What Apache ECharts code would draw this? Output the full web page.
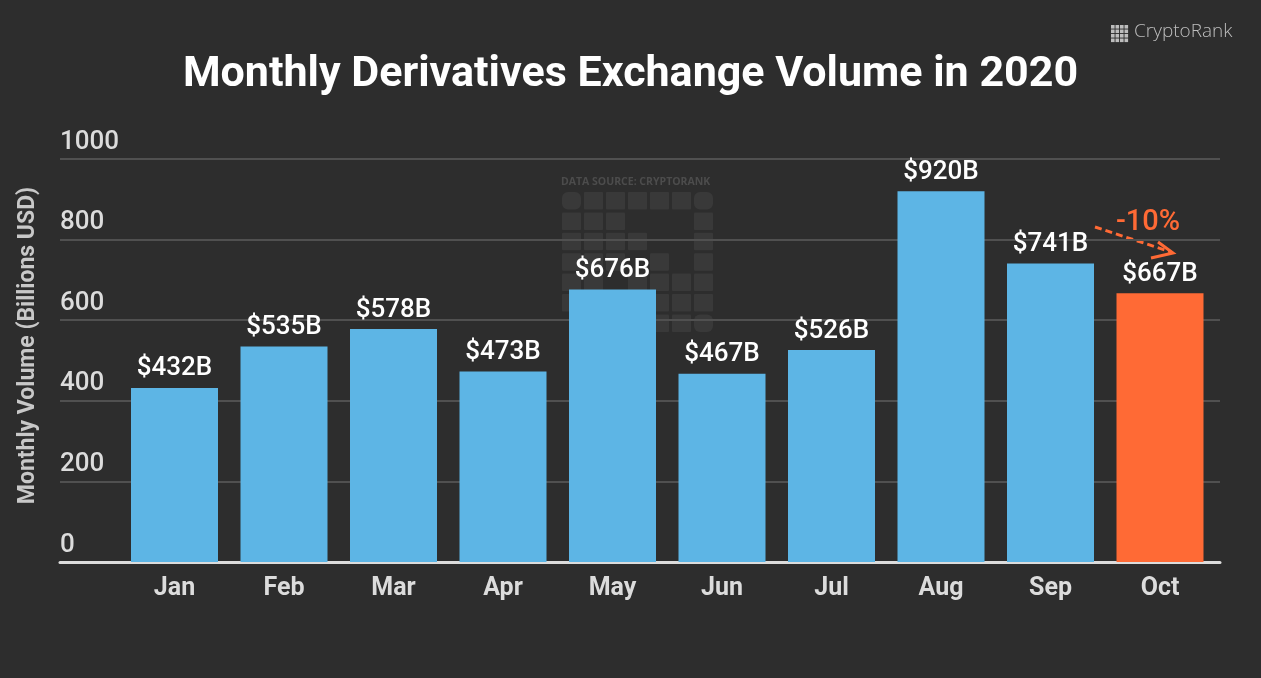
<!doctype html>
<html>
    <head>
        <meta charset="utf-8">
        <title>Monthly Derivatives Exchange Volume in 2020</title>
        <style>
            html, body { margin: 0; padding: 0; background: #2d2d2d; }
            #main { width: 1261px; height: 678px; }
        </style>
    </head>
    <body>
        <div id="main"></div>
        <script src="https://cdn.jsdelivr.net/npm/echarts@6/dist/echarts.min.js"></script>
        <script>
            var months = ['Jan', 'Feb', 'Mar', 'Apr', 'May', 'Jun', 'Jul', 'Aug', 'Sep', 'Oct'];
            var volumes = [432, 535, 578, 473, 676, 467, 526, 920, 741, 667];
            var highlightMonth = 'Oct';
            var changeText = '-10%';
            var yMin = 0, yMax = 1000, yStep = 200;

            var BLUE = '#5db5e5';
            var ORANGE = '#ff6a35';

            var chart = echarts.init(document.getElementById('main'));

            // faint logo watermark: 7x7 grid with the arrow cut out
            var mask = [
                '1111111',
                '1110001',
                '1111001',
                '1110101',
                '1101111',
                '1011111',
                '0111111'
            ];
            var cells = [];
            mask.forEach(function (row, r) {
                row.split('').forEach(function (c, k) {
                    if (c === '1') {
                        cells.push({
                            type: 'rect',
                            shape: { x: 562 + k * 22, y: 192 + r * 20.4, width: 19, height: 17.5, r: k === 0 && r === 0 || k === 6 && r === 0 || k === 6 && r === 6 ? 6 : 1 },
                            style: { fill: 'rgba(255,255,255,0.06)' },
                            silent: true
                        });
                    }
                });
            });

            // small brand icon
            var icon = [];
            for (var i = 0; i < 4; i++) {
                for (var j = 0; j < 4; j++) {
                    icon.push({
                        type: 'rect',
                        shape: { x: 1111 + j * 4.5, y: 25 + i * 4.5, width: 3.6, height: 3.6 },
                        style: { fill: '#bdbdbd' },
                        silent: true
                    });
                }
            }

            chart.setOption({
                backgroundColor: '#2d2d2d',
                textStyle: { fontFamily: 'Roboto' },
                title: {
                    text: 'Monthly Derivatives Exchange Volume in 2020',
                    left: 'center',
                    top: 49,
                    textStyle: { color: '#ffffff', fontSize: 43, fontWeight: 'bold', fontFamily: 'Roboto' }
                },
                grid: [
                    { left: 60, right: 41, top: 159, bottom: 116 },
                    { left: 119.75, right: 46.25, top: 159, bottom: 116 }
                ],
                xAxis: [
                    {
                        gridIndex: 0,
                        type: 'value',
                        min: 0,
                        max: 1,
                        axisLine: { show: true, onZero: false, lineStyle: { color: '#dcdcdc', width: 3 } },
                        axisTick: { show: false },
                        axisLabel: { show: false },
                        splitLine: { show: false }
                    },
                    {
                        gridIndex: 1,
                        type: 'category',
                        data: months,
                        axisLine: { show: false },
                        axisTick: { show: false },
                        axisLabel: {
                            color: '#dcdcdc',
                            fontSize: 25,
                            fontWeight: 'bold',
                            margin: 14
                        }
                    }
                ],
                yAxis: [
                    {
                        gridIndex: 0,
                        type: 'value',
                        min: yMin,
                        max: yMax,
                        interval: yStep,
                        name: 'Monthly Volume (Billions USD)',
                        nameLocation: 'middle',
                        nameGap: 20,
                        nameRotate: 90,
                        nameTextStyle: { color: '#c8c8c8', fontSize: 23, fontWeight: 'bold', padding: [0, 0, 0, 30] },
                        axisLine: { show: false },
                        axisTick: { show: false },
                        axisLabel: {
                            color: '#dcdcdc',
                            fontSize: 26,
                            fontWeight: 500,
                            align: 'left',
                            verticalAlign: 'bottom',
                            margin: 0,
                            padding: [0, 0, 4, 0],
                            formatter: function (v) { return String(v); }
                        },
                        splitLine: { lineStyle: { color: '#505050', width: 2 } }
                    },
                    {
                        gridIndex: 1,
                        type: 'value',
                        min: yMin,
                        max: yMax,
                        interval: yStep,
                        show: false,
                        splitLine: { show: false }
                    }
                ],
                series: [{
                    type: 'bar',
                    xAxisIndex: 1,
                    yAxisIndex: 1,
                    barWidth: 87,
                    data: volumes.map(function (v, i) {
                        return {
                            value: v,
                            itemStyle: { color: months[i] === highlightMonth ? ORANGE : BLUE }
                        };
                    }),
                    label: {
                        show: true,
                        position: 'top',
                        distance: 6,
                        color: '#ffffff',
                        fontSize: 26,
                        fontWeight: 500,
                        formatter: function (p) { return '$' + p.value + 'B'; }
                    },
                    silent: true
                }],
                graphic: [
                    {
                        type: 'group',
                        z: 100,
                        children: cells
                    },
                    {
                        type: 'text',
                        z: 100,
                        left: 561,
                        top: 177,
                        style: { text: 'DATA SOURCE: CRYPTORANK', fill: '#4c4c4c', font: 'bold 10.5px "Open Sans"' },
                        silent: true
                    },
                    {
                        type: 'group',
                        children: icon
                    },
                    {
                        type: 'text',
                        left: 1116,
                        top: 208,
                        style: { text: changeText, fill: ORANGE, font: '500 29px Roboto' },
                        silent: true
                    },
                    {
                        type: 'text',
                        left: 1134,
                        top: 22,
                        style: { text: 'CryptoRank', fill: '#bdbdbd', font: '300 19px "Open Sans"' },
                        silent: true
                    },
                    {
                        type: 'line',
                        shape: { x1: 1095, y1: 227, x2: 1171, y2: 252 },
                        style: { stroke: ORANGE, lineWidth: 3, lineDash: [7, 4] },
                        silent: true
                    },
                    {
                        type: 'polyline',
                        shape: { points: [[1158, 242], [1173, 253], [1151, 258]] },
                        style: { stroke: ORANGE, lineWidth: 3, fill: null },
                        silent: true
                    }
                ]
            });

            window.addEventListener('resize', function () {
                chart.resize();
            });
        </script>
    </body>
</html>
